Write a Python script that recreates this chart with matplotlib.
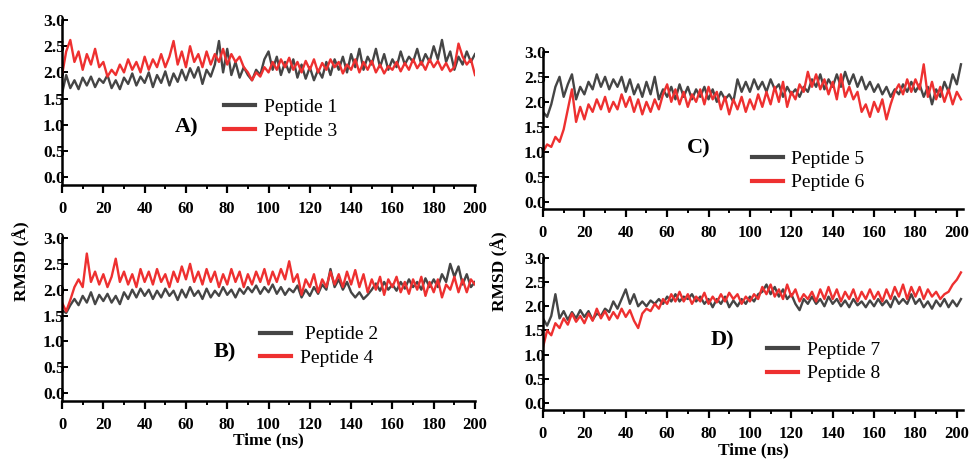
import numpy as np
import matplotlib
matplotlib.use("Agg")
import matplotlib.pyplot as plt
from matplotlib.ticker import MultipleLocator

plt.rcParams['font.family'] = ['Liberation Serif', 'DejaVu Serif']

# time axes (ns)
t_left = np.arange(0, 201, 2)
t_right = np.arange(0, 203, 2)

# panel A
pep1 = [1.60, 1.95, 1.70, 1.85, 1.68, 1.90, 1.75, 1.92, 1.72, 1.88,
        1.80, 1.95, 1.70, 1.85, 1.68, 1.90, 1.78, 1.98, 1.75, 1.92,
        1.80, 2.00, 1.72, 1.95, 1.80, 2.02, 1.75, 1.98, 1.82, 2.05,
        1.85, 2.08, 1.90, 2.10, 1.78, 2.05, 1.92, 2.15, 2.60, 2.00,
        2.45, 1.95, 2.20, 1.90, 2.10, 1.95, 1.85, 2.05, 1.95, 2.25,
        2.40, 2.05, 2.30, 1.95, 2.20, 2.00, 2.25, 1.90, 2.15, 1.88,
        2.10, 1.85, 2.05, 1.90, 2.20, 1.95, 2.25, 2.05, 2.30, 2.00,
        2.35, 2.10, 2.45, 2.05, 2.30, 2.15, 2.45, 2.10, 2.35, 2.05,
        2.25, 2.10, 2.40, 2.15, 2.30, 2.20, 2.45, 2.15, 2.35, 2.20,
        2.50, 2.25, 2.62, 2.20, 2.40, 2.05, 2.30, 2.15, 2.40, 2.20, 2.35]
pep3 = [1.95, 2.40, 2.62, 2.20, 2.40, 2.05, 2.35, 2.15, 2.45, 2.10,
        2.20, 1.92, 2.05, 1.95, 2.15, 2.00, 2.25, 2.05, 2.20, 2.00,
        2.30, 2.05, 2.25, 2.10, 2.35, 2.10, 2.30, 2.60, 2.15, 2.40,
        2.10, 2.50, 2.20, 2.35, 2.10, 2.40, 2.15, 2.35, 2.20, 2.45,
        2.15, 2.35, 2.20, 2.30, 2.10, 2.00, 1.85, 2.00, 1.92, 2.10,
        2.00, 2.20, 2.05, 2.25, 2.10, 2.28, 2.05, 2.20, 2.00, 2.22,
        2.05, 2.25, 2.00, 2.18, 2.05, 2.25, 2.10, 2.20, 1.98, 2.15,
        2.05, 2.25, 2.00, 2.20, 2.05, 2.22, 2.00, 2.15, 1.98, 2.12,
        2.05, 2.20, 2.02, 2.18, 2.05, 2.25, 2.08, 2.20, 2.05, 2.25,
        2.10, 2.22, 2.05, 2.18, 2.02, 2.10, 2.55, 2.30, 2.15, 2.25, 1.95]

# panel B
pep2 = [1.60, 1.55, 1.70, 1.82, 1.70, 1.88, 1.75, 1.95, 1.72, 1.90,
        1.78, 1.92, 1.75, 1.88, 1.72, 1.95, 1.82, 2.00, 1.85, 2.02,
        1.88, 2.00, 1.82, 1.98, 1.85, 2.02, 1.88, 1.98, 1.80, 2.00,
        1.85, 2.05, 1.88, 1.98, 1.82, 2.02, 1.85, 1.98, 1.88, 2.05,
        1.90, 2.00, 1.85, 2.02, 1.92, 2.05, 1.95, 2.08, 1.92, 2.05,
        1.95, 2.10, 1.92, 2.05, 1.90, 2.02, 1.95, 2.08, 1.85, 2.00,
        1.88, 2.05, 1.92, 2.10, 2.00, 2.40, 2.05, 2.20, 2.00, 2.15,
        1.95, 1.85, 1.95, 1.82, 1.90, 2.00, 2.12, 1.98, 2.15, 2.00,
        2.10, 1.98, 2.15, 2.02, 2.20, 2.05, 2.15, 2.00, 2.22, 2.05,
        2.20, 2.05, 2.30, 2.15, 2.50, 2.25, 2.45, 2.10, 2.30, 2.05, 2.15]
pep4 = [1.75, 1.58, 1.80, 2.05, 2.20, 2.05, 2.70, 2.15, 2.35, 2.10,
        2.30, 2.05, 2.25, 2.60, 2.15, 2.35, 2.10, 2.30, 2.05, 2.40,
        2.15, 2.35, 2.10, 2.40, 2.15, 2.30, 2.05, 2.35, 2.15, 2.45,
        2.20, 2.50, 2.15, 2.35, 2.10, 2.40, 2.15, 2.35, 2.05, 2.30,
        2.10, 2.40, 2.15, 2.35, 2.05, 2.30, 2.10, 2.35, 2.15, 2.40,
        2.10, 2.35, 2.15, 2.40, 2.20, 2.55, 2.15, 2.30, 1.90, 2.20,
        2.05, 2.30, 1.95, 2.20, 2.05, 2.35, 2.10, 2.30, 2.05, 2.35,
        2.10, 2.38, 2.05, 2.30, 1.95, 2.20, 2.00, 2.25, 1.90, 2.20,
        2.05, 2.25, 1.95, 2.15, 1.92, 2.20, 2.00, 2.25, 1.88, 2.15,
        1.95, 2.20, 1.85, 2.10, 2.00, 2.25, 1.95, 2.20, 1.95, 2.20, 2.10]

# panel C
pep5 = [1.80, 1.70, 1.95, 2.30, 2.50, 2.10, 2.35, 2.55, 2.05, 2.30,
        2.15, 2.40, 2.25, 2.55, 2.30, 2.50, 2.25, 2.45, 2.30, 2.50,
        2.20, 2.45, 2.15, 2.35, 2.10, 2.40, 2.15, 2.50, 2.05, 2.25,
        2.10, 2.30, 2.05, 2.35, 2.10, 2.30, 2.05, 2.25, 2.10, 2.30,
        2.05, 2.25, 2.00, 2.20, 2.05, 2.15, 2.00, 2.45, 2.20, 2.40,
        2.20, 2.45, 2.25, 2.40, 2.20, 2.45, 2.25, 2.35, 2.10, 2.30,
        2.15, 2.25, 2.10, 2.30, 2.20, 2.45, 2.30, 2.55, 2.25, 2.45,
        2.30, 2.55, 2.30, 2.60, 2.35, 2.55, 2.30, 2.50, 2.25, 2.40,
        2.20, 2.35, 2.15, 2.30, 2.10, 2.25, 2.15, 2.35, 2.20, 2.40,
        2.20, 2.35, 2.10, 2.30, 1.95, 2.25, 2.10, 2.40, 2.20, 2.55, 2.35, 2.75]
pep6 = [1.00, 1.15, 1.10, 1.30, 1.20, 1.45, 1.85, 2.25, 1.60, 1.90,
        1.65, 1.95, 1.80, 2.05, 1.85, 2.10, 1.80, 2.00, 1.85, 2.15,
        1.90, 2.10, 1.80, 2.05, 1.75, 2.00, 1.80, 2.05, 1.85, 2.15,
        2.35, 2.00, 2.25, 1.95, 2.20, 1.90, 2.15, 2.00, 2.25, 1.95,
        2.30, 2.05, 2.20, 1.85, 2.10, 1.75, 2.05, 1.85, 2.10, 1.80,
        2.05, 1.85, 2.15, 1.90, 2.20, 1.95, 2.30, 2.00, 2.40, 1.90,
        2.20, 2.05, 2.35, 2.20, 2.60, 2.30, 2.55, 2.25, 2.45, 2.15,
        2.40, 2.05, 2.55, 2.10, 2.30, 2.05, 2.20, 1.80, 1.95, 1.70,
        2.00, 1.80, 2.05, 1.65, 1.95, 2.20, 2.35, 2.15, 2.45, 2.20,
        2.45, 2.25, 2.75, 2.10, 2.40, 2.05, 2.30, 2.00, 2.25, 1.95, 2.20, 2.05]

# panel D
pep7 = [1.75, 1.60, 1.80, 2.25, 1.75, 1.90, 1.72, 1.88, 1.75, 1.92,
        1.78, 1.90, 1.72, 1.85, 1.80, 1.95, 1.88, 2.10, 1.95, 2.15,
        2.35, 2.05, 2.25, 2.00, 2.10, 2.00, 2.12, 2.05, 2.15, 2.05,
        2.20, 2.10, 2.25, 2.10, 2.20, 2.15, 2.25, 2.10, 2.20, 2.05,
        2.15, 1.98, 2.15, 2.05, 2.20, 1.98, 2.12, 2.00, 2.15, 2.05,
        2.20, 2.10, 2.25, 2.30, 2.45, 2.25, 2.40, 2.20, 2.35, 2.15,
        2.25, 2.05, 1.92, 2.15, 2.05, 2.20, 2.05, 2.15, 2.00, 2.20,
        2.05, 2.15, 2.00, 2.12, 1.98, 2.15, 2.02, 2.10, 1.98, 2.12,
        2.00, 2.15, 2.02, 2.12, 1.98, 2.20, 2.05, 2.15, 2.05, 2.25,
        2.05, 2.15, 1.98, 2.10, 1.95, 2.12, 2.00, 2.15, 1.98, 2.12, 2.00, 2.15]
pep8 = [1.15, 1.50, 1.40, 1.65, 1.55, 1.75, 1.62, 1.85, 1.68, 1.80,
        1.65, 1.85, 1.70, 1.95, 1.75, 1.90, 1.72, 1.88, 1.75, 1.95,
        1.78, 1.92, 1.70, 1.55, 1.85, 1.95, 1.90, 2.05, 1.95, 2.15,
        2.05, 2.25, 2.10, 2.30, 2.10, 2.25, 2.05, 2.20, 2.10, 2.28,
        2.05, 2.20, 2.08, 2.25, 2.10, 2.28, 2.15, 2.25, 2.05, 2.20,
        2.10, 2.25, 2.15, 2.40, 2.25, 2.45, 2.20, 2.35, 2.15, 2.45,
        2.20, 2.35, 2.10, 2.25, 2.15, 2.30, 2.10, 2.35, 2.15, 2.40,
        2.15, 2.35, 2.10, 2.30, 2.15, 2.35, 2.10, 2.30, 2.15, 2.35,
        2.15, 2.30, 2.10, 2.35, 2.15, 2.40, 2.20, 2.45, 2.15, 2.40,
        2.20, 2.40, 2.15, 2.35, 2.20, 2.30, 2.15, 2.25, 2.30, 2.45, 2.55, 2.70]

gray = '#454545'
red = '#ee3030'

fig = plt.figure(figsize=(9.71, 4.59), dpi=100)

panels = [
    # rect, t, gray series, red series, labels, letter, letter pos, legend pos, xmax
    ([0.0639, 0.597, 0.4253, 0.365], t_left, pep1, pep3, ['Peptide 1', 'Peptide 3'], 'A)', (0.192, 0.722), (0.231, 0.740), 200),
    ([0.0639, 0.127, 0.4253, 0.360], t_left, pep2, pep4, [' Peptide 2', 'Peptide 4'], 'B)', (0.232, 0.231), (0.268, 0.245), 200),
    ([0.5592, 0.5436, 0.4326, 0.349], t_right, pep5, pep6, ['Peptide 5', 'Peptide 6'], 'C)', (0.720, 0.677), (0.774, 0.628), 203),
    ([0.5592, 0.1063, 0.4326, 0.337], t_right, pep7, pep8, ['Peptide 7', 'Peptide 8'], 'D)', (0.744, 0.259), (0.790, 0.212), 203),
]

axes = []
for rect, t, g, r, labels, letter, lpos, legpos, xmax in panels:
    ax = fig.add_axes(rect)
    ax.plot(t, g, color=gray, lw=1.7, label=labels[0])
    ax.plot(t, r, color=red, lw=1.7, label=labels[1])
    ax.set_xlim(0, xmax)
    ax.set_ylim(-0.15, 3.05)
    for s in ['top', 'right']:
        ax.spines[s].set_visible(False)
    for s in ['left', 'bottom']:
        ax.spines[s].set_linewidth(1.8)
    ax.spines['left'].set_bounds(-0.15, 3.0)
    ax.xaxis.set_minor_locator(MultipleLocator(10))
    ax.set_xticks(np.arange(0, 201, 20))
    ax.set_yticks(np.arange(0, 3.01, 0.5))
    ax.tick_params(axis='x', which='major', direction='out', length=6, width=1.6, pad=5.5, labelsize=12)
    ax.tick_params(axis='x', which='minor', direction='out', length=3, width=1.4)
    ax.tick_params(axis='y', direction='in', length=4, width=1.4, pad=-2, labelsize=12.5)
    for lab in ax.get_xticklabels() + ax.get_yticklabels():
        lab.set_fontweight('bold')
    fig.text(lpos[0], lpos[1], letter, fontsize=16, fontweight='bold', va='center', ha='center')
    ax.legend(loc='center left', bbox_to_anchor=legpos, bbox_transform=fig.transFigure,
              frameon=False, fontsize=14, handlelength=1.6, handletextpad=0.45,
              labelspacing=0.32, borderpad=0, borderaxespad=0)
    for line in ax.get_legend().get_lines():
        line.set_linewidth(3)
    axes.append(ax)

axes[1].set_xlabel('Time (ns)', fontsize=12.5, fontweight='bold', labelpad=0)
axes[3].set_xlabel('Time (ns)', fontsize=12.5, fontweight='bold', labelpad=0)
fig.text(0.022, 0.43, 'RMSD (Å)', rotation=90, fontsize=12.5, fontweight='bold', va='center', ha='center')
fig.text(0.515, 0.41, 'RMSD (Å)', rotation=90, fontsize=12.5, fontweight='bold', va='center', ha='center')

fig.savefig('out.png', dpi=100)
